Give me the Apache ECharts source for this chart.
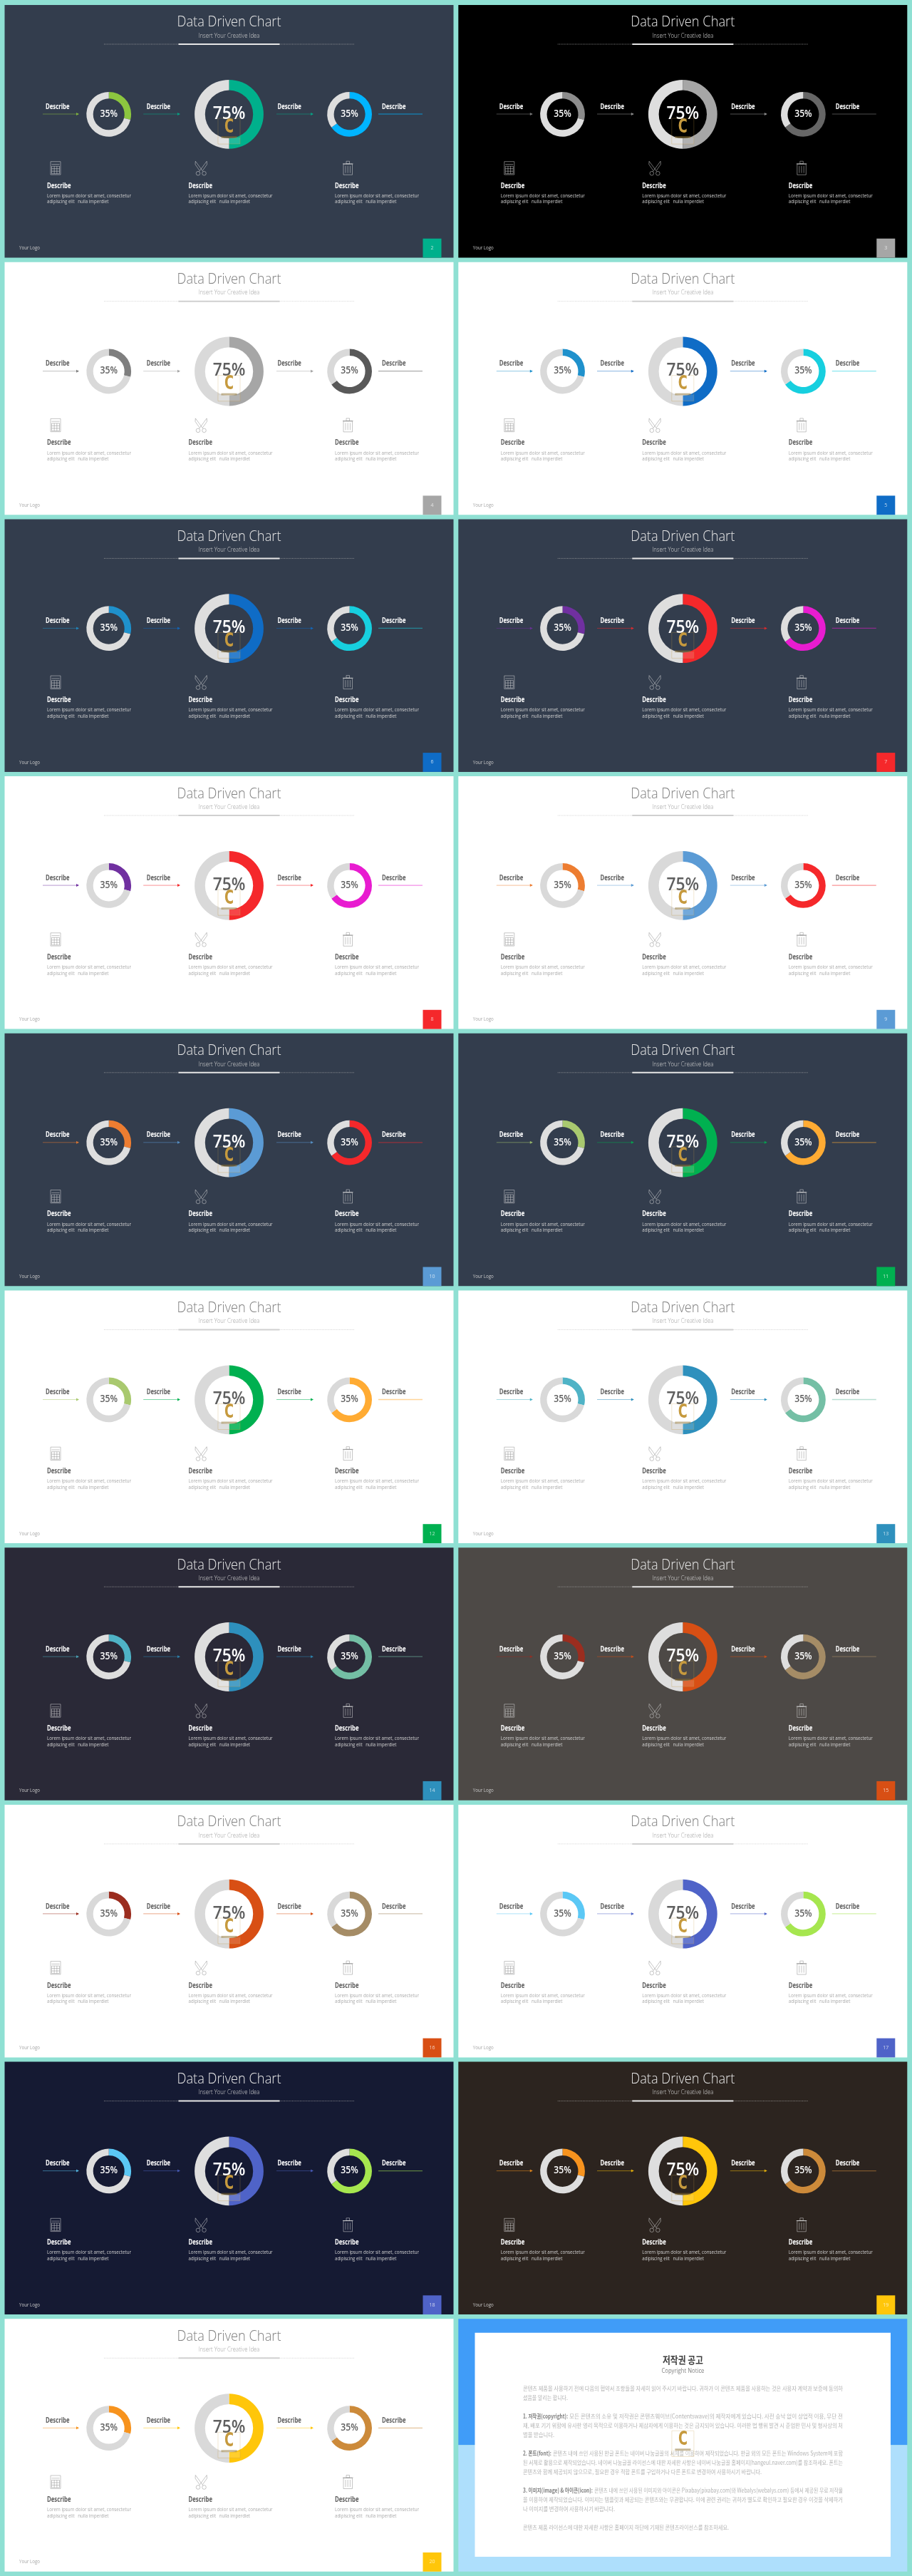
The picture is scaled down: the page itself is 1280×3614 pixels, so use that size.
<!DOCTYPE html>
<html>
<head>
<meta charset="utf-8">
<title>Data Driven Chart</title>
<script src="https://cdn.jsdelivr.net/npm/echarts@6/dist/echarts.min.js"></script>
<style>
html, body { margin: 0; padding: 0; background: #8fe0d3; }
#main { width: 1280px; height: 3614px; }
</style>
</head>
<body>
<div id="main"></div>
<script>
// values
var leftShares = [29, 71];
var centerShares = [50, 50];
var rightShares = [65, 35];
var leftLabel = '35%';
var centerLabel = '75%';
var rightLabel = '35%';

var pageNumbers = [2, 3, 4, 5, 6, 7, 8, 9, 10, 11, 12, 13, 14, 15, 16, 17, 18, 19, 20];
var backgrounds = ['#333d4d', '#000000', '#ffffff', '#ffffff', '#333d4d', '#333d4d', '#ffffff', '#ffffff', '#333d4d', '#333d4d',
    '#ffffff', '#ffffff', '#2a2937', '#4d4946', '#ffffff', '#ffffff', '#151a33', '#2c241f', '#ffffff'];
var leftColors = ['#8cc63f', '#8c8c8c', '#7f7f7f', '#1f91cc', '#1f91cc', '#7030a0', '#7030a0', '#ed7d31', '#ed7d31', '#a9c96f',
    '#a9c96f', '#4fb3c6', '#4fb3c6', '#9b2d1f', '#9b2d1f', '#5bc8f5', '#5bc8f5', '#f7931e', '#f7931e'];
var centerColors = ['#00b08c', '#a6a6a6', '#a6a6a6', '#0f6cc6', '#0f6cc6', '#f5282b', '#f5282b', '#5b9bd5', '#5b9bd5', '#00b050',
    '#00b050', '#2e90bd', '#2e90bd', '#d84f14', '#d84f14', '#4f63c8', '#4f63c8', '#ffc60a', '#ffc60a'];
var rightColors = ['#00b4ff', '#666666', '#595959', '#17cfdf', '#17cfdf', '#e81cd0', '#e81cd0', '#f5282b', '#f5282b', '#ffab33',
    '#ffab33', '#74bfa5', '#74bfa5', '#a58c66', '#a58c66', '#a6e64f', '#a6e64f', '#cc8a3a', '#cc8a3a'];

var titleText = 'Data Driven Chart';
var subtitleText = 'Insert Your Creative Idea';
var describeText = 'Describe';
var loremLines = ['Lorem ipsum dolor sit amet, consectetur', 'adipiscing elit   nulla imperdiet'];
var logoText = 'Your Logo';

var noticeTitle = '저작권 공고';
var noticeSubtitle = 'Copyright Notice';
// [lead text, lead width, body text, right end of the body, y]
var noticeLines = [
    ['', 0, '콘텐츠 제품을 사용하기 전에 다음의 협약서 조항들을 자세히 읽어 주시기 바랍니다. 귀하가 이 콘텐츠 제품을 사용하는 것은 사용자 계약과 보증에 동의하', 449, 331],
    ['', 0, '셨음을 알리는 합니다.', 63, 371],
    ['1. 저작권(copyright):', 63, '모든 콘텐츠의 소유 및 저작권은 콘텐츠웨이브(Contentswave)의 제작자에게 있습니다. 사전 승낙 없이 상업적 이용, 무단 전', 449, 449],
    ['', 0, '재, 배포 기기 위함에 유사한 영리 목적으로 이용하거나 제삼자에게 이용하는 것은 금지되어 있습니다. 이러한 법 행위 발견 시 준엄한 민사 및 형사상의 처', 449, 488],
    ['', 0, '벌을 받습니다.', 44, 527],
    ['2. 폰트(font):', 40, '콘텐츠 내에 쓰인 사용된 한글 폰트는 네이버 나눔글꼴의 서체를 이용하여 제작되었습니다. 한글 외의 모든 폰트는 Windows System에 포함', 449, 605],
    ['', 0, '된 서체로 활용으로 제작되었습니다. 네이버 나눔글꼴 라이선스에 대한 자세한 사항은 네이버 나눔글꼴 홈페이지(hangeul.naver.com)를 참조하세요. 폰트는', 449, 644],
    ['', 0, '콘텐츠와 함께 제공되지 않으므로, 필요한 경우 적합 폰트를 구입하거나 다른 폰트로 변경하여 사용하시기 바랍니다.', 335, 682],
    ['3. 이미지(image) & 아이콘(icon):', 98, '콘텐츠 내에 쓰인 사용된 이미지와 아이콘은 Pixabay(pixabay.com)와 Webalys(webalys.com) 등에서 제공된 무료 저작물', 449, 760],
    ['', 0, '을 이용하여 제작되었습니다. 이미지는 템플릿과 제공되는 콘텐츠와는 무관합니다. 이에 관련 권리는 귀하가 별도로 확인하고 필요한 경우 이것을 삭제하거', 449, 800],
    ['', 0, '나 이미지를 변경하여 사용하시기 바랍니다.', 129, 838],
    ['', 0, '콘텐츠 제품 라이선스에 대한 자세한 사항은 홈페이지 하단에 기재된 콘텐츠라이선스를 참조하세요.', 289, 917]
];

var FONT = '"Open Sans", "Noto Sans", sans-serif';
var KR_FONT = '"Noto Sans CJK KR", sans-serif';
var GRAY_DARK = '#dedede';
var GRAY_LIGHT = '#d9d9d9';
var SLIDE_W = 630;
var SLIDE_H = 354.5;
var PITCH = 360.7;
var COL_X = [6.5, 643.3];
var ICON_LINE = 0.5;

var measure = document.createElement('canvas').getContext('2d');
var graphics = [];
var series = [];

// text squeezed to a given width, the reference slides are condensed
function addText(text, x, y, size, color, width, weight, align, family) {
    var font = (weight || 'normal') + ' ' + size + 'px ' + (family || FONT);
    var scale = 1;
    if (width) {
        measure.font = font;
        scale = width / measure.measureText(text).width;
    }
    graphics.push({
        type: 'text', x: x, y: y, scaleX: scale, z: 10, silent: true,
        style: {
            text: text, x: 0, y: 0, fill: color, font: font,
            align: align || 'left', verticalAlign: 'middle'
        }
    });
}

function addRect(x, y, w, h, fill, z, stroke, opacity) {
    graphics.push({
        type: 'rect', z: z, silent: true,
        shape: { x: x, y: y, width: w, height: h },
        style: { fill: fill || 'none', stroke: stroke || 'none', lineWidth: ICON_LINE, opacity: opacity === undefined ? 1 : opacity }
    });
}

function addLine(x1, y1, x2, y2, color, width, opacity, dash) {
    graphics.push({
        type: 'line', z: 10, silent: true,
        shape: { x1: x1, y1: y1, x2: x2, y2: y2 },
        style: { stroke: color, lineWidth: width, opacity: opacity === undefined ? 1 : opacity, lineDash: dash || null }
    });
}

function addOutline(type, shape, color) {
    graphics.push({
        type: type, z: 10, silent: true, shape: shape,
        style: { fill: 'none', stroke: color, lineWidth: ICON_LINE }
    });
}

function drawArrow(x1, x2, y, color, head, light) {
    addLine(x1, y, x2, y, color, head ? 1 : 1.3, light ? 0.5 : 0.5);
    if (head) {
        graphics.push({
            type: 'polygon', z: 10, silent: true,
            shape: { points: [[x2 - 3, y - 2], [x2 + 1, y], [x2 - 3, y + 2]] },
            style: { fill: color, opacity: light ? 1 : 0.8 }
        });
    }
}

function drawCalculator(x, y, color) {
    addRect(x, y, 14, 18.3, null, 10, color);
    addLine(x + 1.5, y + 3.8, x + 12.5, y + 3.8, color, ICON_LINE);
    for (var r = 0; r < 4; r++) addLine(x + 1.5, y + 6.5 + r * 3.5, x + 12.5, y + 6.5 + r * 3.5, color, ICON_LINE);
    for (var c = 0; c < 4; c++) addLine(x + 1.5 + c * 3.67, y + 6.5, x + 1.5 + c * 3.67, y + 17, color, ICON_LINE);
}

function drawScissors(x, y, color) {
    addOutline('circle', { cx: x + 4.5, cy: y + 17.5, r: 2.8 }, color);
    addOutline('circle', { cx: x + 13, cy: y + 17.5, r: 2.8 }, color);
    addOutline('polyline', { points: [[x + 11.5, y + 15], [x + 0.8, y + 0.5], [x + 0.5, y + 5], [x + 6.5, y + 13.5]] }, color);
    addOutline('polyline', { points: [[x + 6, y + 15], [x + 16.7, y + 0.5], [x + 17, y + 5], [x + 11, y + 13.5]] }, color);
}

function drawTrash(x, y, color) {
    addRect(x + 1, y + 4.5, 12.5, 15, null, 10, color);
    addLine(x, y + 4.2, x + 14.5, y + 4.2, color, 0.8);
    addRect(x + 5, y + 0.5, 4.5, 3.5, null, 10, color);
    for (var i = 0; i < 3; i++) addLine(x + 4 + i * 3.2, y + 7, x + 4 + i * 3.2, y + 17, color, ICON_LINE);
}

function drawWatermark(cx, top) {
    addRect(cx - 15.5, top, 31, 36, null, 10, '#c9a14a', 0.5);
    addText('C', cx, top + 13, 26, '#c69a3e', 13, 'bold', 'center', '"DejaVu Sans"');
    addRect(cx - 11, top + 25, 22, 3, '#8a6d2c', 10, null, 0.5);
    addRect(cx - 15.5, top + 27, 31, 9, '#ffffff', 10, '#c9a14a', 0.14);
}

function donut(name, shares, color, ring, cx, cy, inner, outer) {
    series.push({
        name: name, type: 'pie', silent: true, z: 2, clockwise: true, startAngle: 90,
        center: [cx, cy], radius: [inner, outer],
        label: { show: false }, labelLine: { show: false },
        emphasis: { disabled: true },
        data: [
            { value: shares[0], name: 'part', itemStyle: { color: color } },
            { value: shares[1], name: 'rest', itemStyle: { color: ring } }
        ]
    });
}

function drawSlide(i) {
    var x0 = COL_X[i % 2];
    var y0 = 7 + Math.floor(i / 2) * PITCH;
    var light = backgrounds[i] === '#ffffff';
    var ring = light ? GRAY_LIGHT : GRAY_DARK;
    var titleColor = light ? '#808080' : '#e6e6e6';
    var strong = light ? '#5f5f5f' : '#ffffff';
    var body = light ? '#ababab' : '#d0d0d0';
    var icon = light ? '#8c8c8c' : '#dcdcdc';
    var mx = x0 + 315;
    var cy = y0 + 153.3;

    addRect(x0, y0, SLIDE_W, SLIDE_H, backgrounds[i], 0);

    addText(titleText, mx, y0 + 24.7, 20, titleColor, 146, '300', 'center');
    addText(subtitleText, mx, y0 + 43, 9.5, light ? '#a6a6a6' : '#cfcfcf', 86, '300', 'center');
    addLine(x0 + 139.5, y0 + 55, x0 + 490.5, y0 + 55, light ? '#c8c8c8' : '#a8a8a8', 0.8, 1, [1, 1.2]);
    addLine(x0 + 244, y0 + 55, x0 + 386, y0 + 55, light ? '#d0d0d0' : '#e6e6e6', 2);

    donut('left ' + i, leftShares, leftColors[i], ring, x0 + 146.2, cy, 22, 31.4);
    donut('center ' + i, centerShares, centerColors[i], ring, mx, cy, 33.7, 48.4);
    donut('right ' + i, rightShares, rightColors[i], ring, x0 + 484.1, cy, 22, 31.4);

    addText(leftLabel, x0 + 146.2, cy - 0.5, 14, strong, 24.5, '600', 'center');
    addText(centerLabel, mx, cy - 1, 26, strong, 45.7, '600', 'center');
    addText(rightLabel, x0 + 484.1, cy - 0.5, 14, strong, 24.5, '600', 'center');

    var labelX = [57.5, 199.2, 382.9, 529.5];
    for (var d = 0; d < labelX.length; d++) {
        addText(describeText, x0 + labelX[d], y0 + 142.7, 10.5, strong, 33.5, 'bold');
    }
    drawArrow(x0 + 53.5, x0 + 103.5, cy - 0.3, leftColors[i], true, light);
    drawArrow(x0 + 194.7, x0 + 245.5, cy - 0.3, centerColors[i], true, light);
    drawArrow(x0 + 381.5, x0 + 432.5, cy - 0.3, centerColors[i], true, light);
    drawArrow(x0 + 524.5, x0 + 586.5, cy - 0.3, rightColors[i], false, light);

    drawCalculator(x0 + 64.5, y0 + 219.7, icon);
    drawScissors(x0 + 267, y0 + 218.7, icon);
    drawTrash(x0 + 474.5, y0 + 218.7, icon);

    var textX = [59.5, 258, 463.5];
    for (var t = 0; t < textX.length; t++) {
        addText(describeText, x0 + textX[t], y0 + 253.7, 10.5, strong, 33.5, 'bold');
        addText(loremLines[0], x0 + textX[t], y0 + 267.7, 7.5, body, 118);
        addText(loremLines[1], x0 + textX[t], y0 + 276.3, 7.5, body, 86.5);
    }

    addText(logoText, x0 + 20.5, y0 + 341, 7.5, light ? '#a6a6a6' : '#c8c8c8', 29);
    addRect(x0 + 587, y0 + 327.7, 26, SLIDE_H - 327.7, centerColors[i], 1);
    addText(String(pageNumbers[i]), x0 + 600, y0 + 341, 7, 'rgba(255,255,255,0.7)', 0, 'normal', 'center');

    drawWatermark(mx, y0 + 159);
}

function drawNotice() {
    var x0 = COL_X[1];
    var y0 = 7 + 9 * PITCH;
    var base = 3240;
    addRect(x0, y0, SLIDE_W, 177, '#409cf8', 0);
    addRect(x0, y0 + 177, SLIDE_W, SLIDE_H - 177, '#aedffc', 0);
    addRect(666.5, 3272.7, 583.5, 314.3, '#ffffff', 1);
    addText(noticeTitle, 958.4, 3311, 14, '#404040', 57, 'bold', 'center', KR_FONT);
    addText(noticeSubtitle, 958.4, 3326, 9, '#808080', 60, 'normal', 'center');
    noticeLines.forEach(function (line) {
        var y = base + line[4] / 3;
        var left = 734;
        if (line[0]) {
            addText(line[0], left, y, 8.5, '#7f7f7f', line[1], 'bold', 'left', KR_FONT);
            left += line[1] + 2;
        }
        addText(line[2], left, y, 8.5, '#b4b4b4', 734 + line[3] - left, 'normal', 'left', KR_FONT);
    });
    drawWatermark(958.4, y0 + 157);
}

for (var s = 0; s < backgrounds.length; s++) {
    drawSlide(s);
}
drawNotice();

var myChart = echarts.init(document.getElementById('main'), null, { renderer: 'canvas' });
option = {
    backgroundColor: '#8fe0d3',
    animation: false,
    tooltip: { show: false },
    graphic: { elements: graphics },
    series: series
};
myChart.setOption(option);
</script>
</body>
</html>
